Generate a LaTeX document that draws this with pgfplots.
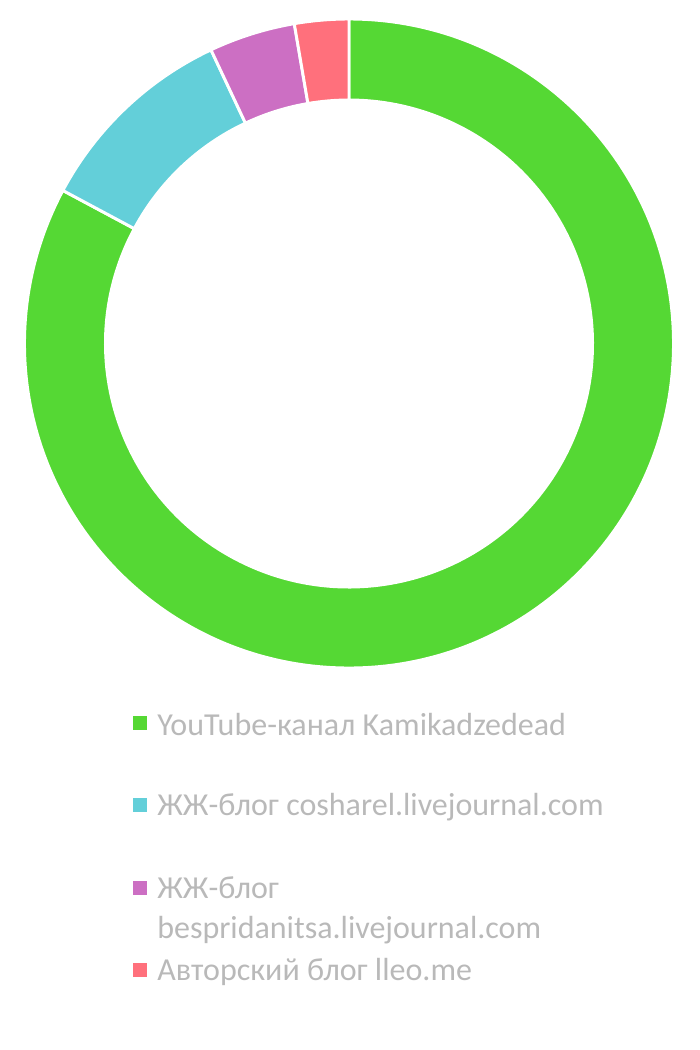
\documentclass[border=0pt]{standalone}
\usepackage{pgfplots}
\pgfplotsset{compat=1.18}
\usepackage{pgfplotstable}
\usepackage{fontspec}
\setmainfont{Carlito}
\definecolor{cgreen}{HTML}{55D834}
\definecolor{ccyan}{HTML}{63CFD9}
\definecolor{cpurple}{HTML}{CC6FC3}
\definecolor{cred}{HTML}{FF707C}
\definecolor{ctext}{HTML}{B9B9B9}

\pgfplotstableread{
label value
YouTube 82.9
cosharel 10.2
bespridanitsa 4.3
lleo 2.7
}\donutdata

\pgfplotstablegetelem{0}{value}\of\donutdata \let\vA\pgfplotsretval
\pgfplotstablegetelem{1}{value}\of\donutdata \let\vB\pgfplotsretval
\pgfplotstablegetelem{2}{value}\of\donutdata \let\vC\pgfplotsretval
\pgfplotstablegetelem{3}{value}\of\donutdata \let\vD\pgfplotsretval
\pgfmathsetmacro\tot{\vA+\vB+\vC+\vD}
\pgfmathsetmacro\aA{90}
\pgfmathsetmacro\aB{\aA-360*(\vA/\tot)}
\pgfmathsetmacro\aC{\aB-360*(\vB/\tot)}
\pgfmathsetmacro\aD{\aC-360*(\vC/\tot)}
\pgfmathsetmacro\aE{\aD-360*(\vD/\tot)}

\newcommand\cx{349}
\newcommand\cy{343.5}
% path radii in px (1px = 0.75pt); white border of ~3px is centred on the path
\newcommand\Ro{324.5}
\newcommand\Ri{243.5}
\newcommand\seg[3]{%
  \fill[#1, draw=white, line width=2.2pt, line join=miter]
    (axis cs:{\cx+\Ro*cos(#2)},{\cy-\Ro*sin(#2)})
    arc[start angle=#2, end angle=#3, radius=\Ro*0.75pt]
    -- (axis cs:{\cx+\Ri*cos(#3)},{\cy-\Ri*sin(#3)})
    arc[start angle=#3, end angle=#2, radius=\Ri*0.75pt]
    -- cycle;}

\begin{document}%
\begin{tikzpicture}
\begin{axis}[
  scale only axis, width=525pt, height=787.5pt,
  xmin=0, xmax=700, ymin=0, ymax=1050, y dir=reverse,
  hide axis, clip=false]
\addplot[draw=none, forget plot] coordinates {(0,0) (700,1050)};
\seg{cgreen}{\aA}{\aB}
\seg{ccyan}{\aB}{\aC}
\seg{cpurple}{\aC}{\aD}
\seg{cred}{\aD}{\aE}
% legend
\fill[cgreen] (axis cs:133,716) rectangle (axis cs:147,730);
\fill[ccyan] (axis cs:133,798) rectangle (axis cs:147,812);
\fill[cpurple] (axis cs:133,881) rectangle (axis cs:147,895);
\fill[cred] (axis cs:133,963) rectangle (axis cs:147,977);
\begin{scope}[every node/.style={anchor=base west, inner sep=0pt, text=ctext, font=\fontsize{24pt}{30pt}\selectfont}]
\node at (axis cs:157,735) {YouTube-канал Kamikadzedead};
\node at (axis cs:157,815) {ЖЖ-блог cosharel.livejournal.com};
\node at (axis cs:157,898) {ЖЖ-блог};
\node at (axis cs:157,938) {bespridanitsa.livejournal.com};
\node at (axis cs:157,980) {Авторский блог lleo.me};
\end{scope}
\end{axis}
\end{tikzpicture}%
\end{document}
